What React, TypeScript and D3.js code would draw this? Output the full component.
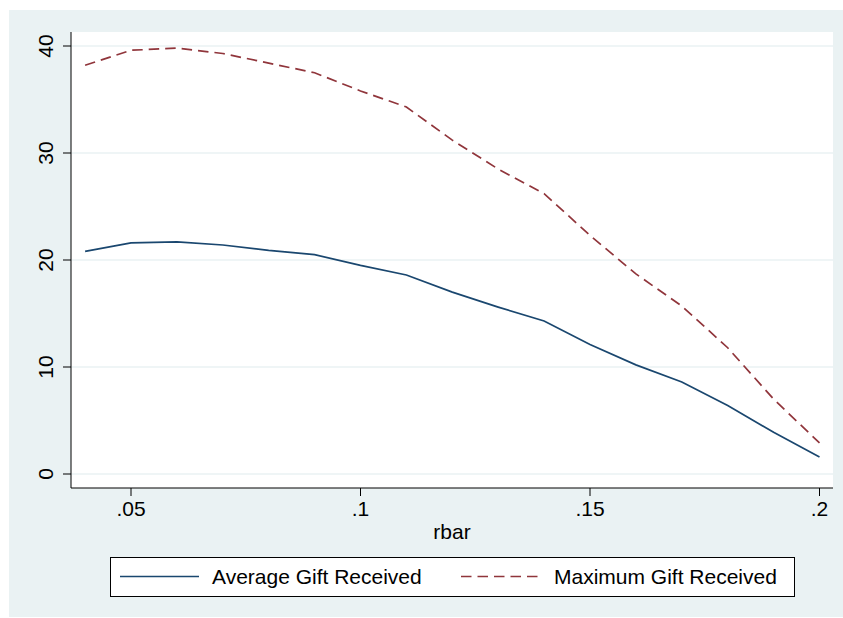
import React from "react";
import * as d3 from "d3";

const rbar = [0.04, 0.05, 0.06, 0.07, 0.08, 0.09, 0.1, 0.11, 0.12, 0.13, 0.14, 0.15, 0.16, 0.17, 0.18, 0.19, 0.2];
const averageGift = [20.8, 21.6, 21.7, 21.4, 20.9, 20.5, 19.5, 18.6, 17.0, 15.6, 14.3, 12.1, 10.2, 8.6, 6.4, 3.9, 1.6];
const maximumGift = [38.2, 39.6, 39.8, 39.3, 38.4, 37.5, 35.8, 34.3, 31.2, 28.5, 26.2, 22.3, 18.7, 15.7, 11.8, 7.0, 2.9];
const xTicks = [0.05, 0.1, 0.15, 0.2];
const xTickLabels = [".05", ".1", ".15", ".2"];
const yTicks = [0, 10, 20, 30, 40];
const seriesNames = ["Average Gift Received", "Maximum Gift Received"];

const W = 843;
const H = 618;
const plot = { left: 71, right: 833, top: 32, bottom: 488 };
const navy = "#1a476f";
const maroon = "#90353b";
const bg = "#eaf2f3";
const font = "'Liberation Sans', Arial, sans-serif";
const fs = 21;

export default function App() {
  const x = d3.scaleLinear().domain([0.05, 0.2]).range([131, 819.5]);
  const y = d3.scaleLinear().domain([0, 40]).range([474, 46]);
  const line = d3
    .line<number>()
    .x((_, i) => x(rbar[i]))
    .y((d) => y(d));

  return (
    <svg width={W} height={H} style={{ position: "absolute", left: 0, top: 0, fontFamily: font }}>
      <rect x={0} y={0} width={W} height={H} fill="#ffffff" />
      <rect x={9} y={10} width={W - 9} height={H - 11} fill={bg} />
      <rect x={plot.left} y={plot.top} width={plot.right - plot.left} height={plot.bottom - plot.top} fill="#ffffff" />
      {yTicks.map((t) => (
        <line key={"g" + t} x1={plot.left} x2={plot.right} y1={y(t)} y2={y(t)} stroke={bg} strokeWidth={1.6} />
      ))}
      <path d={line(averageGift) || ""} fill="none" stroke={navy} strokeWidth={1.7} />
      <path d={line(maximumGift) || ""} fill="none" stroke={maroon} strokeWidth={1.7} strokeDasharray="10.5 6" />
      {/* axes */}
      <line x1={plot.left} x2={plot.left} y1={plot.top} y2={plot.bottom} stroke="#000" strokeWidth={1} />
      <line x1={plot.left} x2={plot.right} y1={plot.bottom} y2={plot.bottom} stroke="#000" strokeWidth={1} />
      {yTicks.map((t) => (
        <g key={"y" + t}>
          <line x1={plot.left - 8} x2={plot.left} y1={y(t)} y2={y(t)} stroke="#000" strokeWidth={1} />
          <text
            transform={`translate(${53},${y(t)}) rotate(-90)`}
            textAnchor="middle"
            fontSize={fs}
            fill="#000"
          >
            {t}
          </text>
        </g>
      ))}
      {xTicks.map((t, i) => (
        <g key={"x" + t}>
          <line x1={x(t)} x2={x(t)} y1={plot.bottom} y2={plot.bottom + 8} stroke="#000" strokeWidth={1} />
          <text x={x(t)} y={516} textAnchor="middle" fontSize={fs} fill="#000">
            {xTickLabels[i]}
          </text>
        </g>
      ))}
      <text x={452} y={539} textAnchor="middle" fontSize={fs} fill="#000">
        rbar
      </text>
      {/* legend */}
      <rect x={110.5} y={557.5} width={684} height={39} fill="#ffffff" stroke="#000" strokeWidth={1} />
      <line x1={120} x2={199} y1={576.5} y2={576.5} stroke={navy} strokeWidth={1.7} />
      <text x={212} y={584} fontSize={fs} fill="#000">
        {seriesNames[0]}
      </text>
      <line x1={461} x2={540} y1={576.5} y2={576.5} stroke={maroon} strokeWidth={1.7} strokeDasharray="10.5 6" />
      <text x={554} y={584} fontSize={fs} fill="#000">
        {seriesNames[1]}
      </text>
    </svg>
  );
}
